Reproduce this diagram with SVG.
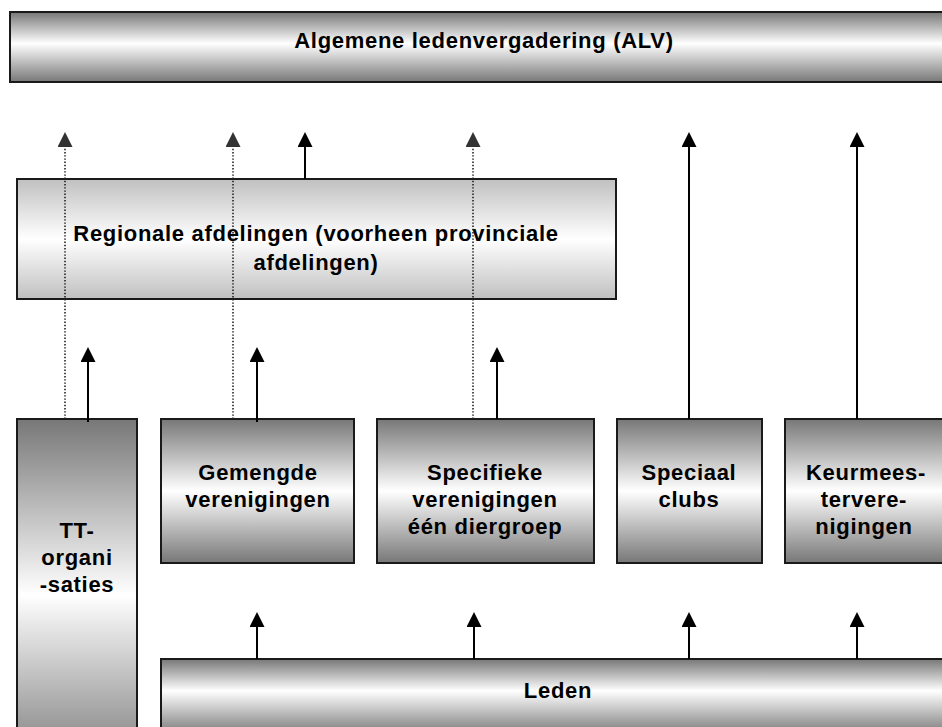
<svg xmlns="http://www.w3.org/2000/svg" width="942" height="727" viewBox="0 0 942 727">
<style>
.box{stroke:#1a1a1a;stroke-width:2}
.t{font-family:"Liberation Sans",Arial,sans-serif;font-weight:bold;font-size:22px;letter-spacing:0.7px;fill:#000;text-anchor:middle}
.solid{stroke:#000;stroke-width:2;fill:none}
.dot{stroke:#222;stroke-width:1.6;stroke-dasharray:1.4 1.8;fill:none}
</style>
<defs>
<linearGradient id="gDark" x1="0" y1="0" x2="0" y2="1">
<stop offset="0" stop-color="#777777"/>
<stop offset="0.5" stop-color="#ffffff"/>
<stop offset="1" stop-color="#777777"/>
</linearGradient>
<linearGradient id="gTop" x1="0" y1="0" x2="0" y2="1">
<stop offset="0" stop-color="#777777"/>
<stop offset="0.45" stop-color="#ffffff"/>
<stop offset="1" stop-color="#777777"/>
</linearGradient>
<linearGradient id="gLight" x1="0" y1="0" x2="0" y2="1">
<stop offset="0" stop-color="#c0c0c0"/>
<stop offset="0.5" stop-color="#ffffff"/>
<stop offset="1" stop-color="#c0c0c0"/>
</linearGradient>
<linearGradient id="gLeden" x1="0" y1="0" x2="0" y2="1">
<stop offset="0" stop-color="#777777"/>
<stop offset="0.42" stop-color="#ffffff"/>
<stop offset="1" stop-color="#777777"/>
</linearGradient>
<marker id="ah" viewBox="0 0 15 15" markerWidth="15" markerHeight="15" refX="0" refY="7.5" orient="auto" markerUnits="userSpaceOnUse">
<path d="M0,0 L15,7.5 L0,15 z" fill="#000"/>
</marker>
<marker id="ahg" viewBox="0 0 15 15" markerWidth="15" markerHeight="15" refX="0" refY="7.5" orient="auto" markerUnits="userSpaceOnUse">
<path d="M0,0 L15,7.5 L0,15 z" fill="#333"/>
</marker>
</defs>
<rect width="942" height="727" fill="#fff"/>

<g id="alv">
<rect class="box" x="10" y="12" width="945" height="70" fill="url(#gTop)"/>
<text class="t" x="484" y="48">Algemene ledenvergadering (ALV)</text>
</g>

<g id="regionale">
<rect class="box" x="17" y="179" width="599" height="120" fill="url(#gLight)"/>
<text class="t" x="316" y="241">Regionale afdelingen (voorheen provinciale</text>
<text class="t" x="316" y="270">afdelingen)</text>
</g>

<g id="tt">
<rect class="box" x="17" y="419" width="120" height="352" fill="url(#gDark)"/>
<text class="t" x="77" y="538">TT-</text>
<text class="t" x="77" y="565">organi</text>
<text class="t" x="77" y="592">-saties</text>
</g>

<g id="gemengde">
<rect class="box" x="161" y="419" width="193" height="144" fill="url(#gDark)"/>
<text class="t" x="258" y="480">Gemengde</text>
<text class="t" x="258" y="507">verenigingen</text>
</g>

<g id="specifieke">
<rect class="box" x="377" y="419" width="217" height="144" fill="url(#gDark)"/>
<text class="t" x="485" y="480">Specifieke</text>
<text class="t" x="485" y="507">verenigingen</text>
<text class="t" x="485" y="534">één diergroep</text>
</g>

<g id="speciaal">
<rect class="box" x="617" y="419" width="145" height="144" fill="url(#gDark)"/>
<text class="t" x="689" y="480">Speciaal</text>
<text class="t" x="689" y="507">clubs</text>
</g>

<g id="keurmeester">
<rect class="box" x="785" y="419" width="170" height="144" fill="url(#gDark)"/>
<text class="t" x="866" y="480">Keurmees-</text>
<text class="t" x="864" y="507">tervere-</text>
<text class="t" x="864" y="534">nigingen</text>
</g>

<g id="leden">
<rect class="box" x="161" y="659" width="794" height="76" fill="url(#gLeden)"/>
<text class="t" x="558" y="698">Leden</text>
</g>

<g id="connectors">
<line class="dot" x1="65" y1="419" x2="65" y2="147" marker-end="url(#ahg)"/>
<line class="dot" x1="233" y1="419" x2="233" y2="147" marker-end="url(#ahg)"/>
<line class="dot" x1="473" y1="419" x2="473" y2="147" marker-end="url(#ahg)"/>
<line class="solid" x1="305" y1="179" x2="305" y2="147" marker-end="url(#ah)"/>
<line class="solid" x1="689" y1="419" x2="689" y2="147" marker-end="url(#ah)"/>
<line class="solid" x1="857" y1="419" x2="857" y2="147" marker-end="url(#ah)"/>
<line class="solid" x1="88" y1="422" x2="88" y2="362" marker-end="url(#ah)"/>
<line class="solid" x1="257" y1="422" x2="257" y2="362" marker-end="url(#ah)"/>
<line class="solid" x1="497" y1="419" x2="497" y2="362" marker-end="url(#ah)"/>
<line class="solid" x1="257" y1="659" x2="257" y2="627" marker-end="url(#ah)"/>
<line class="solid" x1="474" y1="659" x2="474" y2="627" marker-end="url(#ah)"/>
<line class="solid" x1="689" y1="659" x2="689" y2="627" marker-end="url(#ah)"/>
<line class="solid" x1="857" y1="659" x2="857" y2="627" marker-end="url(#ah)"/>
</g>
</svg>
